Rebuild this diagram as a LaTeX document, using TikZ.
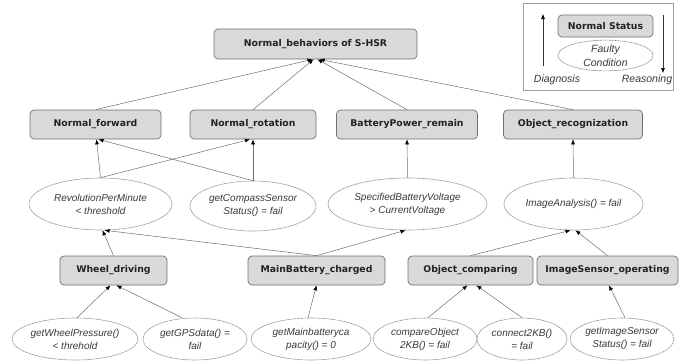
\documentclass[tikz,border=0pt]{standalone}
\usepackage{fontspec}
\setmainfont{Liberation Sans}
\newfontfamily\boxfont{DejaVu Sans}
\usetikzlibrary{shapes.geometric,arrows.meta}

\definecolor{boxfill}{HTML}{D9D9D9}
\definecolor{boxline}{HTML}{707070}
\definecolor{boxtext}{HTML}{222222}
\definecolor{ellline}{HTML}{8C8C8C}
\definecolor{condtext}{HTML}{3A3A3A}
\definecolor{edge}{HTML}{6E6E6E}
\definecolor{legline}{HTML}{A0A0A0}

\tikzset{
  state/.style={draw=boxline, fill=boxfill, rounded corners=4pt, line width=0.7pt,
    inner sep=0pt, minimum height=29pt, text=boxtext,
    font=\boxfont\bfseries\fontsize{9.3}{11}\selectfont},
  cond/.style={ellipse, draw=ellline, dash pattern=on 1pt off 0.5pt, line width=0.6pt, fill=white,
    inner sep=0pt, align=center, text=condtext,
    font=\itshape\fontsize{10}{13}\selectfont},
  link/.style={draw=edge, line width=0.5pt, -{Latex[length=5pt,width=4pt,color=black]}},
  legarrow/.style={draw=black!80, line width=0.6pt, -{Latex[length=5pt,width=4pt,color=black]}},
  legtext/.style={text=condtext, inner sep=0pt, font=\itshape\fontsize{10.5}{12}\selectfont}
}

\begin{document}
\begin{tikzpicture}[x=1pt,y=-1pt]
\useasboundingbox (0,0) rectangle (686,362);

% goal
\node[state, minimum width=203pt, minimum height=30pt] (top) at (315.5,44) {Normal\_behaviors of S-HSR};

% normal behaviours
\node[state, minimum width=131pt] (nf)  at (95.5,124.5)  {Normal\_forward};
\node[state, minimum width=126pt] (nr)  at (253,124.5)   {Normal\_rotation};
\node[state, minimum width=141pt] (bp)  at (407,124.5)   {BatteryPower\_remain};
\node[state, minimum width=139pt] (orr) at (573,124.5)   {Object\_recognization};

% faulty conditions, middle row
\node[cond, minimum width=143pt, minimum height=52pt] (rpm) at (100.5,204) {RevolutionPerMinute\\< threshold};
\node[cond, minimum width=126pt, minimum height=50pt] (gcs) at (253,206)   {getCompassSensor\\Status() = fail};
\node[cond, minimum width=159pt, minimum height=52pt] (sbv) at (407.5,204) {SpecifiedBatteryVoltage\\> CurrentVoltage};
\node[cond, minimum width=139pt, minimum height=52pt] (ia)  at (573.5,204) {ImageAnalysis() = fail};

% components
\node[state, minimum width=107pt] (wd)  at (113.5,270.5) {Wheel\_driving};
\node[state, minimum width=137pt] (mb)  at (316.5,270.5) {MainBattery\_charged};
\node[state, minimum width=125pt] (oc)  at (470.5,270.5) {Object\_comparing};
\node[state, minimum width=141pt] (iso) at (607.5,270.5) {ImageSensor\_operating};

% faulty conditions, bottom row
\node[cond, minimum width=126pt, minimum height=42pt] (gwp)  at (75,339)  {getWheelPressure()\\< threhold};
\node[cond, minimum width=104pt, minimum height=42pt] (gps)  at (195,339) {getGPSdata() =\\fail};
\node[cond, minimum width=120pt, minimum height=42pt] (gmb)  at (311,339) {getMainbatteryca\\pacity() = 0};
\node[cond, minimum width=104pt, minimum height=42pt] (cmp)  at (425,339) {compareObject\\2KB() = fail};
\node[cond, minimum width=90pt,  minimum height=42pt] (c2kb) at (522,339) {connect2KB()\\= fail};
\node[cond, minimum width=100pt, minimum height=42pt] (gis)  at (622,339) {getImageSensor\\Status() = fail};

% links to the goal
\draw[link] (nf.north)  -- ([xshift=-3pt]top.south);
\draw[link] (nr.north)  -- ([xshift=-2pt]top.south);
\draw[link] (bp.north)  -- ([xshift=2pt]top.south);
\draw[link] (orr.north) -- ([xshift=4pt]top.south);

% middle row to behaviours
\draw[link] (rpm.north) -- ([xshift=1pt]nf.south);
\draw[link] (rpm.north) -- ([xshift=-3pt]nr.south);
\draw[link] (gcs.north) -- (nr.south);
\draw[link] (gcs.north) -- ([xshift=3pt]nf.south);
\draw[link] (sbv.north) -- (bp.south);
\draw[link] (ia.north)  -- (orr.south);

% components to middle row
\draw[link] (wd.north)  -- ([xshift=2pt]rpm.south);
\draw[link] (mb.north)  -- ([xshift=4pt]rpm.south);
\draw[link] (mb.north)  -- ([xshift=-2pt]sbv.south);
\draw[link] (oc.north)  -- ([xshift=-3pt]ia.south);
\draw[link] (iso.north) -- ([xshift=2pt]ia.south);

% bottom row to components
\draw[link] ([xshift=2pt]gwp.north)   -- ([xshift=-3pt]wd.south);
\draw[link] ([xshift=-13pt]gps.north) -- ([xshift=3pt]wd.south);
\draw[link] ([xshift=-3pt]gmb.north)  -- (mb.south);
\draw[link] ([xshift=3pt]cmp.north)   -- ([xshift=-3pt]oc.south);
\draw[link] (c2kb.north)              -- ([xshift=6pt]oc.south);
\draw[link] ([xshift=3pt]gis.north)   -- ([xshift=1.5pt]iso.south);

% legend
\node[draw=legline, fill=white, line width=0.6pt, minimum width=150pt, minimum height=87pt, inner sep=0pt] (legend) at (598,46.5) {};
\node[state, minimum width=95pt, minimum height=22pt] (lgstate) at (605.5,26) {Normal Status};
\node[cond, minimum width=95pt, minimum height=29pt, font=\itshape\fontsize{10.5}{14}\selectfont] (lgcond) at (605.5,55.5) {Faulty\\Condition};
\coordinate (dgA) at (543,66);
\coordinate (dgB) at (543,14);
\coordinate (rsA) at (663,15);
\coordinate (rsB) at (663,73);
\draw[legarrow] (dgA) -- (dgB);
\draw[legarrow] (rsA) -- (rsB);
\node[legtext] (dgtext) at (557,80) {Diagnosis};
\node[legtext] (rstext) at (647,80) {Reasoning};
\end{tikzpicture}
\end{document}
